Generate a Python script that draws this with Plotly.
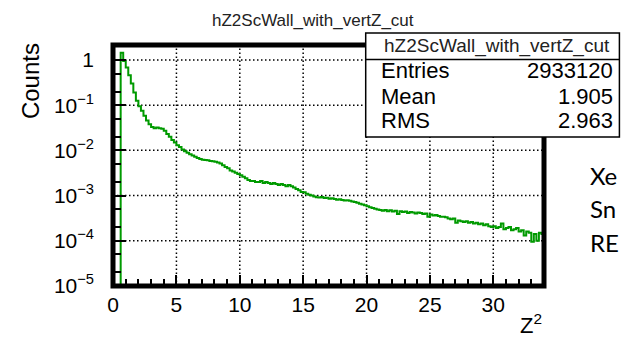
import plotly.graph_objects as go

# ---- data ----
bin_width = 0.2
counts = [
    0, 0, 0, 1.45, 0.95, 0.68, 0.46, 0.30, 0.19, 0.125,
    0.095, 0.075, 0.058, 0.046, 0.038, 0.033, 0.031, 0.032, 0.031, 0.030,
    0.027, 0.023, 0.020, 0.017, 0.015, 0.013, 0.0118, 0.0105, 0.0095, 0.0088,
    0.0082, 0.0077, 0.0072, 0.0068, 0.0064, 0.0062, 0.0061, 0.0060, 0.0058, 0.0057,
    0.0056, 0.0054, 0.0051, 0.0047, 0.0043, 0.0040, 0.0036, 0.0034, 0.0032, 0.0030,
    0.0028, 0.0026, 0.0024, 0.0022, 0.0021, 0.0021, 0.0020, 0.0020, 0.0021, 0.0019,
    0.0020, 0.0019, 0.0018, 0.0019, 0.0018, 0.0017, 0.0018, 0.0017, 0.0016, 0.0017,
    0.0016, 0.0015, 0.0014, 0.0013, 0.0012, 0.00118, 0.00110, 0.00104, 0.00100, 0.00095,
    0.00092, 0.00090, 0.00093, 0.00088, 0.00089, 0.00085, 0.00087, 0.00084, 0.00081, 0.00083,
    0.00080, 0.00078, 0.00079, 0.00077, 0.00074, 0.00072, 0.00069, 0.00066, 0.00063, 0.00061,
    0.00058, 0.00055, 0.00053, 0.00051, 0.00049, 0.00048, 0.00046, 0.00048, 0.00045, 0.00047,
    0.00044, 0.00046, 0.00039, 0.00045, 0.00043, 0.00044, 0.00041, 0.00043, 0.00042, 0.00040,
    0.00042, 0.00041, 0.00039, 0.00040, 0.00034, 0.00038, 0.00036, 0.00037, 0.00035, 0.00034,
    0.00034, 0.00033, 0.00031, 0.00030, 0.00031, 0.00025, 0.00028, 0.00027, 0.00026, 0.00027,
    0.00025, 0.00026, 0.00024, 0.00025, 0.00023, 0.00024, 0.00022, 0.00023, 0.00021, 0.00020,
    0.00021, 0.00019, 0.00020, 0.00024, 0.00018, 0.00019, 0.00020, 0.00017, 0.00018, 0.00019,
    0.00016, 0.00017, 0.00013, 0.00016, 0.00015, 0.000095, 0.00014, 0.00010, 0.00015, 0.00014,
]
x_ticks = [0, 5, 10, 15, 20, 25, 30]
y_tickvals = [1e-5, 1e-4, 1e-3, 1e-2, 1e-1, 1]
y_ticktext = ["10<sup>−5</sup>", "10<sup>−4</sup>", "10<sup>−3</sup>",
              "10<sup>−2</sup>", "10<sup>−1</sup>", "1"]
hist_name = "hZ2ScWall_with_vertZ_cut"
stats_labels = ["Entries", "Mean", "RMS"]
stats_values = ["2933120", "1.905", "2.963"]
side_text = ["Xe", "Sn", "RE"]

# ---- layout geometry (pixels) ----
W, H = 621, 337
L, R, T, B = 113, 544.5, 45, 286
PX_PER_X = 12.69
PX_PER_DEC = 45.2
X_RANGE = [-0.005, (R - L) / PX_PER_X]
Y_RANGE = [-5.003, -5 + (B - T) / PX_PER_DEC]

def px(xp):
    return (xp - L) / (R - L)

def py(yp):
    return (B - yp) / (B - T)

edges = [i * bin_width for i in range(len(counts) + 1)]
floor = 1e-7
yv = [c if c > 0 else floor for c in counts]
xs = edges
ys = yv + [yv[-1]]

FONT = "Liberation Sans, Arial, sans-serif"
GREEN = "#009a00"

fig = go.Figure()
fig.add_trace(go.Scatter(x=xs, y=ys, mode="lines", line_shape="hv",
                         line=dict(color=GREEN, width=2), showlegend=False,
                         hoverinfo="skip", cliponaxis=True))

fig.update_layout(
    width=W, height=H, autosize=False,
    margin=dict(l=L, r=W - R, t=T, b=H - B, pad=0),
    paper_bgcolor="white", plot_bgcolor="white",
    font=dict(family=FONT, color="black", size=20),
    showlegend=False,
)
fig.update_xaxes(
    range=X_RANGE, tickvals=x_ticks, ticks="inside", ticklen=11, tickwidth=1.5,
    tickcolor="black", showline=False, showgrid=False,
    minor=dict(dtick=1, ticks="inside", ticklen=7, tickwidth=1.5, tickcolor="black",
               showgrid=False),
    tickfont=dict(size=21, family=FONT), zeroline=False, ticklabelstandoff=4,
)
fig.update_yaxes(
    type="log", range=Y_RANGE, tickvals=y_tickvals, ticktext=y_ticktext,
    ticks="inside", ticklen=13, tickwidth=1.5, tickcolor="black",
    showline=False, showgrid=False,
    minor=dict(ticks="inside", ticklen=8, tickwidth=1.5, tickcolor="black", showgrid=False),
    tickfont=dict(size=21, family=FONT), zeroline=False, ticklabelstandoff=18,
)

shapes = []
# dotted grid lines at the tick positions
for xv in x_ticks[1:]:
    shapes.append(dict(type="line", xref="x", yref="paper", x0=xv, x1=xv, y0=0, y1=1,
                       line=dict(color="black", width=1.5, dash="1.5px,2.5px"),
                       layer="below"))
for yt in y_tickvals[1:]:
    shapes.append(dict(type="line", xref="paper", yref="y", x0=0, x1=1, y0=yt, y1=yt,
                       line=dict(color="black", width=1.5, dash="1.5px,2.5px"),
                       layer="below"))
# thick frame centred on the plot-area edges (ROOT style)
shapes.append(dict(type="rect", xref="paper", yref="paper", x0=0, x1=1, y0=0, y1=1,
                   line=dict(color="black", width=5), fillcolor="rgba(0,0,0,0)",
                   layer="above"))
# stats box
shapes.append(dict(type="rect", xref="paper", yref="paper",
                   x0=px(366), x1=px(620), y0=py(137), y1=py(33),
                   line=dict(color="black", width=1.5), fillcolor="white", layer="above"))
shapes.append(dict(type="line", xref="paper", yref="paper",
                   x0=px(366), x1=px(620), y0=py(59.5), y1=py(59.5),
                   line=dict(color="black", width=1.5), layer="above"))
fig.update_layout(shapes=shapes)

ann = []
ann.append(dict(text=hist_name, xref="paper", yref="paper", x=px(313), y=py(21),
                showarrow=False, font=dict(size=17, family=FONT, color="#222"),
                xanchor="center", yanchor="middle"))
ann.append(dict(text=hist_name, xref="paper", yref="paper", x=px(497), y=py(46),
                showarrow=False, font=dict(size=19, family=FONT, color="#222"),
                xanchor="center", yanchor="middle"))
rows_y = [71, 96, 120]
for lab, val, yy in zip(stats_labels, stats_values, rows_y):
    ann.append(dict(text=lab, xref="paper", yref="paper", x=px(379), y=py(yy),
                    showarrow=False, font=dict(size=22, family=FONT),
                    xanchor="left", yanchor="middle"))
    ann.append(dict(text=val, xref="paper", yref="paper", x=px(616), y=py(yy),
                    showarrow=False, font=dict(size=22, family=FONT),
                    xanchor="right", yanchor="middle"))
ann.append(dict(text="Counts", xref="paper", yref="paper", x=px(30), y=py(81),
                textangle=-90, showarrow=False, font=dict(size=24, family=FONT),
                xanchor="center", yanchor="middle"))
ann.append(dict(text="Z<sup>2</sup>", xref="paper", yref="paper", x=px(544), y=py(324),
                showarrow=False, font=dict(size=22, family=FONT),
                xanchor="right", yanchor="middle"))
for t, yy in zip(side_text, [175, 208, 242]):
    ann.append(dict(text=t, xref="paper", yref="paper", x=px(589), y=py(yy),
                    showarrow=False, font=dict(size=24, family="Lato, Open Sans, sans-serif"),
                    xanchor="left", yanchor="middle"))
fig.update_layout(annotations=ann)

fig.write_html("out.html", config={"displayModeBar": False},
               post_script="document.body.style.margin='0';")
